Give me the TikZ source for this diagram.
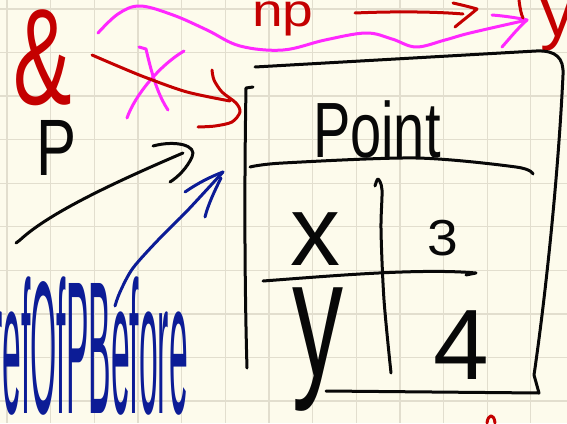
\documentclass[tikz,border=0pt]{standalone}
\usepackage{fontspec}
\setmainfont{Liberation Sans}
\definecolor{bgc}{RGB}{253,251,236}
\definecolor{gridc}{RGB}{226,222,206}
\definecolor{redink}{RGB}{196,0,0}
\definecolor{magink}{RGB}{255,40,255}
\definecolor{blueink}{RGB}{12,28,150}
\definecolor{blackink}{RGB}{8,8,8}
\tikzset{
  ink/.style={line width=3pt, line cap=round, line join=round, draw=blackink},
  redpen/.style={ink, draw=redink},
  magpen/.style={ink, draw=magink},
  bluepen/.style={ink, draw=blueink},
  lbl/.style={inner sep=0pt, outer sep=0pt, anchor=base west},
  gridline/.style={draw=gridc, line width=1.3pt}
}
\newcommand{\fs}[1]{\fontsize{#1}{#1}\selectfont}
\begin{document}
\begin{tikzpicture}[x=1pt,y=-1pt]
\useasboundingbox (0,0) rectangle (567,423);
\clip (0,0) rectangle (567,423);
\fill[bgc] (0,0) rectangle (567,423);
\foreach \i in {0,...,12} \draw[gridline] ({7+43.65*\i},0) -- ({7+43.65*\i},423);
\foreach \j in {0,...,9} \draw[gridline] (0,{9+43.56*\j}) -- (567,{9+43.56*\j});

% ---- labels ----
\node[lbl, text=redink] (amp) at (13,104) {\scalebox{0.64}[1]{\fs{137}\&}};
\node[lbl, text=blackink] (p) at (36,175) {\scalebox{0.75}[1]{\fs{80}P}};
\node[lbl, text=redink] (np) at (252,27) {\scalebox{1.2}[1]{\fs{46}np}};
\node[lbl, text=redink] (ytop) at (540,36) {\fs{70}y};
\node[lbl, text=blackink] (point) at (313,157) {\scalebox{1}[1.4]{\fs{56}Point}};
\node[lbl, text=blackink] (xk) at (290,265) {\fs{100}x};
\node[lbl, text=blackink] (xv) at (427,255) {\scalebox{1.2}[1.1]{\fs{46}3}};
\node[lbl, text=blackink] (yk) at (292,376) {\scalebox{0.85}[1.4]{\fs{120}y}};
\node[lbl, text=blackink] (yv) at (433,379) {\fs{100}4};
\node[lbl, text=blueink] (ref) at (-9,413) {\scalebox{0.25}[1.4]{\fs{135}refOfPBefore}};

% ---- box ----
\coordinate (boxtl) at (255,67);
\coordinate (boxtr) at (536,51);
\coordinate (boxbr) at (539,393);
\coordinate (boxbl) at (326,391);
\draw[ink] (boxtl) -- (boxtr) .. controls (556,50) and (564,58) .. (563,75)
  .. controls (558,180) and (545,300) .. (534,375) -- (boxbr) -- (boxbl);
\draw[ink] (253,87) -- (246,88) .. controls (244,200) and (245,300) .. (247,368);
\draw[ink] plot[smooth] coordinates {(250,167) (283,163) (416,158) (516,167) (533,174)};
\draw[ink] plot[smooth] coordinates {(375,186) (378,179) (382,190) (381,230) (384,300) (391,373)};
\draw[ink] (263,281) .. controls (330,276) and (420,268) .. (476,273) -- (466,275);

% ---- magenta ----
\draw[magpen] plot[smooth, tension=0.6] coordinates {(98,33) (118,14) (140,6) (173,15) (207,30) (240,46) (283,50) (325,40) (366,33) (392,39) (416,47) (445,40) (470,33) (527,20)};
\draw[magpen] (492,15) .. controls (505,16) and (518,18) .. (527,20) .. controls (518,28) and (510,38) .. (502,47);
\draw[magpen] (139,47) -- (146,49) .. controls (152,75) and (158,95) .. (168,110);
\draw[magpen] (184,51) .. controls (160,65) and (135,95) .. (127,118);

% ---- red ----
\draw[redpen] plot[smooth] coordinates {(92,55) (120,67) (147,78) (187,92) (230,101)};
\draw[redpen] plot[smooth] coordinates {(212,70) (214,80) (222,92) (236,103) (240,112) (232,122) (215,126) (198,127)};
\draw[redpen] (355,13) .. controls (400,11) and (440,12) .. (463,14);
\draw[redpen] (453,3) .. controls (462,5) and (470,7) .. (477,9) .. controls (470,15) and (462,21) .. (455,27);
\draw[redpen] (519,0) .. controls (520,8) and (521,14) .. (523,18);
\draw[redpen] (487,423) .. controls (488,414) and (494,413) .. (495,423);

% ---- black arrow from P ----
\draw[ink] (16,243) -- (20,240) .. controls (50,212) and (120,180) .. (183,153);
\draw[ink] (153,146) .. controls (175,140) and (198,145) .. (192,157) .. controls (187,168) and (178,177) .. (170,182);

% ---- blue arrow ----
\draw[bluepen] plot[smooth] coordinates {(115,306) (120,292) (133,268) (160,238) (187,211) (223,172)};
\draw[bluepen] (185,192) .. controls (198,183) and (210,177) .. (223,172);
\draw[bluepen] (221,178) .. controls (214,192) and (208,205) .. (205,217);
\end{tikzpicture}
\end{document}
